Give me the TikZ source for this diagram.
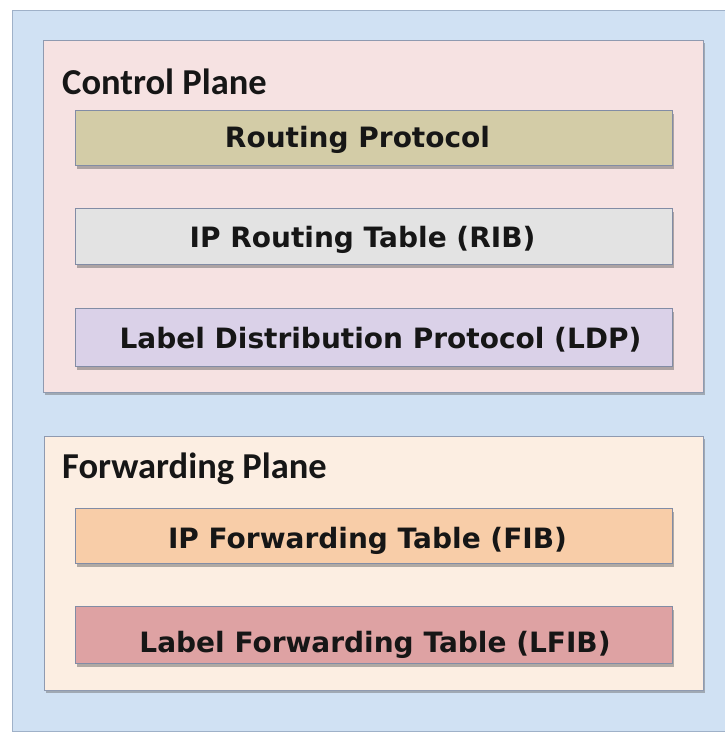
\documentclass[tikz,border=0pt]{standalone}
\usepackage{fontspec}
\setmainfont{DejaVu Sans}
\newfontfamily\headfont{Carlito}
\usetikzlibrary{shadows}

\definecolor{framefill}{HTML}{D0E1F3}
\definecolor{frameedge}{HTML}{9FB1C8}
\definecolor{ctrlfill}{HTML}{F6E2E2}
\definecolor{fwdfill}{HTML}{FCEEE2}
\definecolor{paneledge}{HTML}{8F9AB0}
\definecolor{rpfill}{HTML}{D3CCA7}
\definecolor{ribfill}{HTML}{E3E3E3}
\definecolor{ldpfill}{HTML}{DAD1E8}
\definecolor{fibfill}{HTML}{F8CDA8}
\definecolor{lfibfill}{HTML}{DEA2A3}
\definecolor{entryedge}{HTML}{828CA5}
\definecolor{ink}{HTML}{161616}

\begin{document}
\begin{tikzpicture}[x=1pt,y=-1pt,
  boxbase/.style={rectangle, inner sep=0pt, anchor=north west},
  panel/.style={boxbase, draw=paneledge, line width=1.4pt,
    drop shadow={shadow xshift=1.5pt, shadow yshift=-2.5pt, opacity=0.45, fill=black!60}},
  entry/.style={boxbase, draw=entryedge, line width=1.4pt,
    minimum width=597pt,
    drop shadow={shadow xshift=1.5pt, shadow yshift=-3pt, opacity=0.5, fill=black!60}},
  entrytext/.style={font=\fontsize{28}{32}\selectfont\bfseries, text=ink, anchor=base, inner sep=0pt},
  heading/.style={font=\headfont\fontsize{36.5}{40}\selectfont\bfseries, text=ink, anchor=base west, inner sep=0pt}]

  \useasboundingbox[fill=white] (0,0) rectangle (724,733);

  % outer frame
  \node[boxbase, draw=frameedge, line width=1pt, fill=framefill,
        minimum width=730pt, minimum height=721pt] (frame) at (12,10) {};

  % control plane panel
  \node[panel, fill=ctrlfill, minimum width=660pt, minimum height=352pt] (ctrl) at (43,40) {};
  \node[heading] (ctrlhead) at (62,95) {Control Plane};

  \node[entry, fill=rpfill,  minimum height=55pt] (rp)  at (75,110) {};
  \node[entry, fill=ribfill, minimum height=56pt] (rib) at (75,208) {};
  \node[entry, fill=ldpfill, minimum height=58pt] (ldp) at (75,308) {};

  \node[entrytext] (rptext)  at (357.5,147) {Routing Protocol};
  \node[entrytext] (ribtext) at (362.5,247) {IP Routing Table (RIB)};
  \node[entrytext] (ldptext) at (380.5,348) {Label Distribution Protocol (LDP)};

  % forwarding plane panel
  \node[panel, fill=fwdfill, minimum width=659pt, minimum height=254pt] (fwd) at (44,436) {};
  \node[heading] (fwdhead) at (62,478) {Forwarding Plane};

  \node[entry, fill=fibfill,  minimum height=55pt] (fib)  at (75,508) {};
  \node[entry, fill=lfibfill, minimum height=57pt] (lfib) at (75,606) {};

  \node[entrytext] (fibtext)  at (367.5,548) {IP Forwarding Table (FIB)};
  \node[entrytext] (lfibtext) at (375,652) {Label Forwarding Table (LFIB)};
\end{tikzpicture}
\end{document}
